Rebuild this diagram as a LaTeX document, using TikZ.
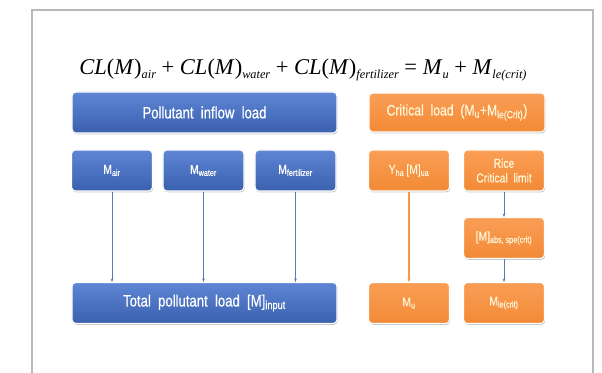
\documentclass[tikz,border=0pt]{standalone}
\usepackage{fontspec}
\newfontfamily\boxfont[FakeStretch=0.8,FakeBold=0.6]{Liberation Sans}
\newfontfamily\eqfont{Liberation Serif}
\newcommand\eqsub[1]{\raisebox{-0.45ex}{\fontsize{10.5}{10.5}\selectfont\itshape #1}}
\newcommand\bsub[1]{\textsubscript{#1}}
\usetikzlibrary{shadows,arrows.meta}
\definecolor{bluetop}{HTML}{5E86D4}
\definecolor{bluebot}{HTML}{3A60AE}
\definecolor{orgtop}{HTML}{FA9E55}
\definecolor{orgbot}{HTML}{F28A36}
\definecolor{orgtext}{HTML}{FFF6D8}
\definecolor{linkblue}{HTML}{5A78B8}
\definecolor{linkorg}{HTML}{F39A45}
\begin{document}
\begin{tikzpicture}[x=0.03cm,y=-0.03cm,
  boxbase/.style={rounded corners=0.12cm, draw=white, line width=0.9pt, align=center, inner sep=0pt,
     drop shadow={shadow xshift=0.6pt, shadow yshift=-1.2pt, opacity=0.45}},
  bluebox/.style={boxbase, top color=bluetop, bottom color=bluebot, text=white},
  orgbox/.style={boxbase, top color=orgtop, bottom color=orgbot, text=orgtext},
  wide/.style={minimum width=7.95cm, minimum height=1.23cm, font=\boxfont\fontsize{14}{16}\selectfont},
  small/.style={minimum width=2.43cm, minimum height=1.23cm, font=\boxfont\fontsize{11}{12.5}\selectfont},
  blink/.style={draw=linkblue, line width=0.5pt, -{Stealth[length=3pt,width=2.4pt]}},
  olink/.style={draw=linkorg, line width=0.9pt, -{Stealth[length=3pt,width=2.6pt]}}
]
\useasboundingbox (0,0) rectangle (602,373);
\draw[gray!55, line width=1pt] (32,373) -- (32,10) -- (593,10) -- (593,373);

\node[font=\eqfont\fontsize{19.2}{21}\selectfont] (eq) at (303,70) {\textit{CL}(\textit{M})\eqsub{air} + \textit{CL}(\textit{M})\eqsub{water} + \textit{CL}(\textit{M})\eqsub{fertilizer} = \textit{M}\eqsub{u} + \textit{M}\eqsub{le(crit)}};

\node[bluebox, wide] (inflow) at (204.5,112.5) {Pollutant\ \ inflow\ \ load};
\node[orgbox, minimum width=5.28cm, minimum height=1.17cm, font=\boxfont\fontsize{13}{15}\selectfont] (crit) at (457,112.5) {Critical\ \ load\ \ (M\bsub{u}+M\bsub{le(Crit)})};

\node[bluebox, small] (mair) at (112,170.5) {M\bsub{air}};
\node[bluebox, small] (mwater) at (203.5,170.5) {M\bsub{water}};
\node[bluebox, small] (mfert) at (295.5,170.5) {M\bsub{fertilizer}};
\node[orgbox, small] (yha) at (409,170.5) {Y\bsub{ha}\,[M]\bsub{ua}};
\node[orgbox, small] (rice) at (504,170.5) {Rice\\Critical\ \ limit};
\node[orgbox, small] (mabs) at (504,238) {[M]\bsub{abs,\ spe(crit)}};

\node[bluebox, wide] (total) at (204.5,303) {Total\ \ pollutant\ \ load\ \ [M]\bsub{input}};
\node[orgbox, small] (mu) at (409,303) {M\bsub{u}};
\node[orgbox, small] (mle) at (504,303) {M\bsub{le(crit)}};

\draw[blink] (mair.south) -- (mair.south |- total.north);
\draw[blink] (mwater.south) -- (mwater.south |- total.north);
\draw[blink] (mfert.south) -- (mfert.south |- total.north);
\draw[olink] (yha.south) -- (mu.north);
\draw[blink] (rice.south) -- (mabs.north);
\draw[blink] (mabs.south) -- (mle.north);
\end{tikzpicture}
\end{document}
